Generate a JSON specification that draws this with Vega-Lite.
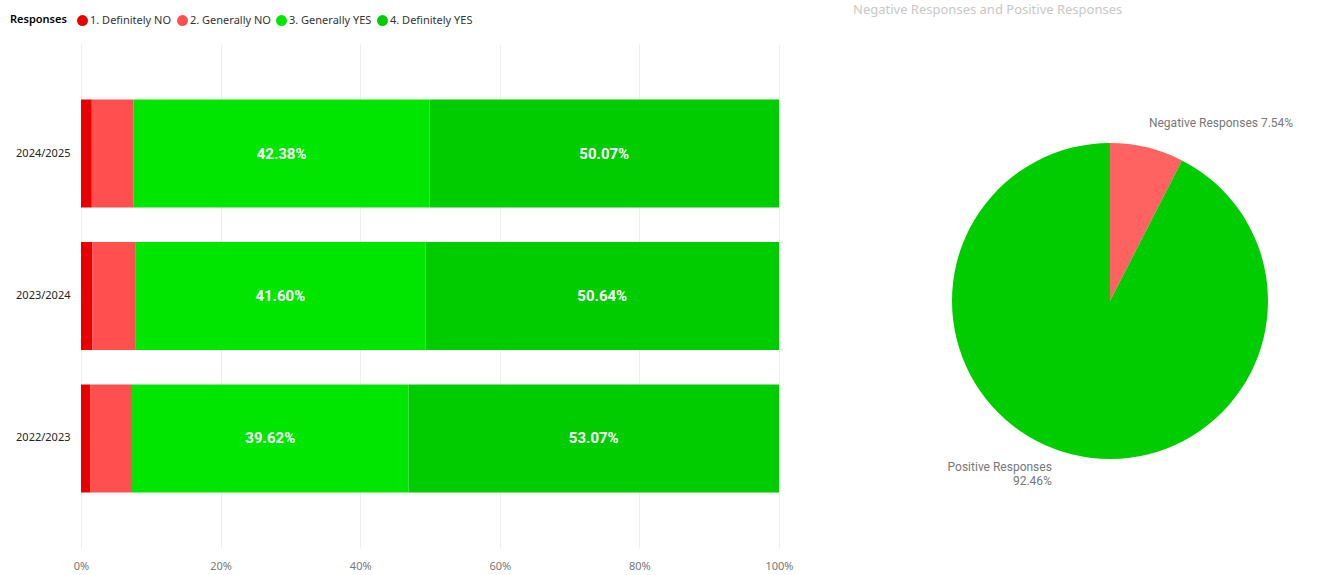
{
  "$schema": "https://vega.github.io/schema/vega-lite/v6.json",
  "background": "white",
  "padding": {"left": 5, "top": 4, "right": 5, "bottom": 5},
  "config": {"view": {"stroke": null}, "font": "Noto Sans"},
  "resolve": {"scale": {"color": "independent"}},
  "spacing": 59,
  "hconcat": [
    {
      "width": 698,
      "height": 504,
      "data": {
        "values": [
          {"year": "2024/2025", "resp": "1. Definitely NO", "value": 0.0155},
          {"year": "2024/2025", "resp": "2. Generally NO", "value": 0.0600},
          {"year": "2024/2025", "resp": "3. Generally YES", "value": 0.4238},
          {"year": "2024/2025", "resp": "4. Definitely YES", "value": 0.5007},
          {"year": "2023/2024", "resp": "1. Definitely NO", "value": 0.0160},
          {"year": "2023/2024", "resp": "2. Generally NO", "value": 0.0616},
          {"year": "2023/2024", "resp": "3. Generally YES", "value": 0.4160},
          {"year": "2023/2024", "resp": "4. Definitely YES", "value": 0.5064},
          {"year": "2022/2023", "resp": "1. Definitely NO", "value": 0.0130},
          {"year": "2022/2023", "resp": "2. Generally NO", "value": 0.0601},
          {"year": "2022/2023", "resp": "3. Generally YES", "value": 0.3962},
          {"year": "2022/2023", "resp": "4. Definitely YES", "value": 0.5307}
        ]
      },
      "encoding": {
        "y": {
          "field": "year", "type": "nominal", "title": null,
          "sort": ["2024/2025", "2023/2024", "2022/2023"],
          "scale": {"paddingInner": 0.242, "paddingOuter": 0.39},
          "axis": {"domain": false, "ticks": false, "labelFontSize": 11, "labelColor": "#252423", "labelPadding": 11, "minExtent": 76, "maxExtent": 76}
        },
        "x": {
          "field": "value", "type": "quantitative", "stack": "zero", "title": null,
          "scale": {"domain": [0, 1]},
          "axis": {"format": "%", "values": [0, 0.2, 0.4, 0.6, 0.8, 1], "labelFlush": false, "domain": false, "ticks": false, "grid": true, "gridColor": "#eeeeee", "labelColor": "#777777", "labelFontSize": 11, "labelPadding": 12}
        },
        "order": {"field": "resp"}
      },
      "layer": [
        {
          "mark": {"type": "bar"},
          "encoding": {
            "color": {
              "field": "resp", "type": "nominal",
              "scale": {"domain": ["1. Definitely NO", "2. Generally NO", "3. Generally YES", "4. Definitely YES"], "range": ["#E60000", "#FF4F4F", "#00E600", "#00CC00"]},
              "legend": {"orient": "none", "legendX": -71, "legendY": -29, "direction": "horizontal", "title": "Responses", "titleOrient": "left", "titleFontSize": 11, "titleFontWeight": 600, "titleColor": "#000000", "labelFontSize": 11, "labelColor": "#333333", "symbolType": "circle", "symbolSize": 120, "symbolStrokeWidth": 0, "labelOffset": 2, "columnPadding": 5, "titlePadding": 10, "labelLimit": 200}
            }
          }
        },
        {
          "mark": {"type": "text", "color": "white", "fontWeight": "bold", "fontSize": 15, "font": "Roboto"},
          "encoding": {
            "x": {"field": "value", "type": "quantitative", "stack": "zero", "bandPosition": 0.5},
            "detail": {"field": "resp"},
            "text": {"condition": {"test": "datum.value > 0.2", "field": "value", "type": "quantitative", "format": ".2%"}, "value": ""}
          }
        }
      ]
    },
    {
      "width": 400,
      "height": 514,
      "title": {"text": "Negative Responses and Positive Responses", "anchor": "start", "color": "#c8c8c8", "fontSize": 13, "fontWeight": "normal", "font": "Noto Sans", "dx": -57, "offset": 27},
      "data": {
        "values": [
          {"group": "Negative Responses", "share": 0.0754, "label": "Negative Responses 7.54%"},
          {"group": "Positive Responses", "share": 0.9246, "label": "Positive Responses\n92.46%"}
        ]
      },
      "encoding": {
        "theta": {"field": "share", "type": "quantitative", "stack": true},
        "order": {"field": "group"}
      },
      "layer": [
        {
          "mark": {"type": "arc", "outerRadius": 158},
          "encoding": {
            "color": {"field": "group", "type": "nominal", "scale": {"domain": ["Negative Responses", "Positive Responses"], "range": ["#FF6361", "#00CC00"]}, "legend": null}
          }
        },
        {
          "mark": {"type": "text", "radius": 183, "align": "left", "baseline": "middle", "font": "Roboto", "fontSize": 12, "color": "#777777", "dx": -4},
          "encoding": {
            "detail": {"field": "group"},
            "text": {"condition": {"test": "datum.group == 'Negative Responses'", "field": "label"}, "value": ""}
          }
        },
        {
          "mark": {"type": "text", "radius": 171, "align": "right", "baseline": "middle", "font": "Roboto", "fontSize": 12, "color": "#777777", "dx": -18, "lineBreak": "\n", "lineHeight": 14},
          "encoding": {
            "detail": {"field": "group"},
            "text": {"condition": {"test": "datum.group == 'Positive Responses'", "field": "label"}, "value": ""}
          }
        }
      ]
    }
  ]
}
